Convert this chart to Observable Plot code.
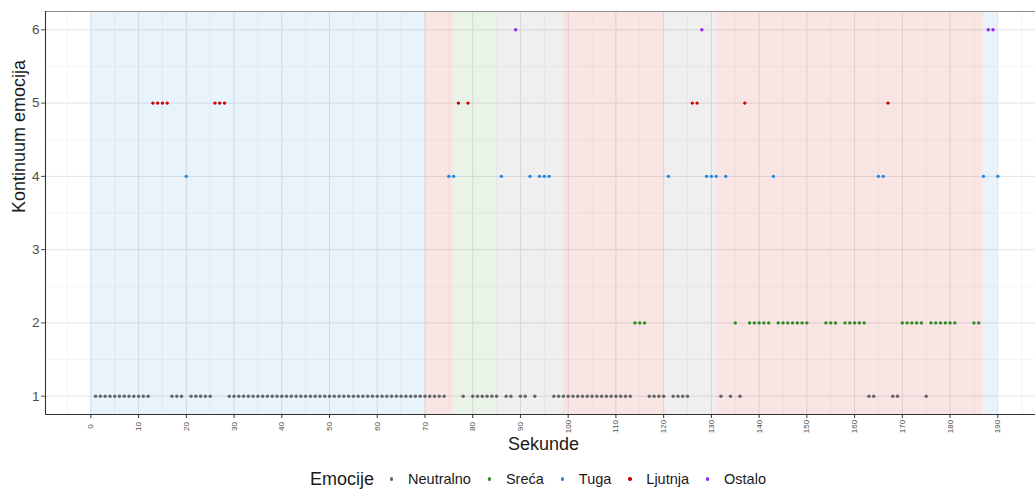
<!DOCTYPE html>
<html>
<head>
<meta charset="utf-8">
<script src="https://cdn.jsdelivr.net/npm/d3@7"></script>
<script src="https://cdn.jsdelivr.net/npm/@observablehq/plot@0.6"></script>
<style>
  body { margin: 0; background: #fff; font-family: "Liberation Sans", Arial, sans-serif; }
  #chart { width: 1035px; height: 455px; overflow: hidden; }
  #legend {
    width: 984px; height: 22px; padding-top: 13px; padding-left: 51px;
    display: flex; align-items: center; justify-content: center;
    color: #1a1a1a;
  }
  #legend .title { font-size: 18px; margin-right: 9px; }
  #legend .key { width: 17px; height: 17px; display: flex; align-items: center; justify-content: center; }
  #legend .key span { width: 3.4px; height: 3.4px; border-radius: 50%; display: block; }
  #legend .lab { font-size: 14.5px; margin-left: 8px; margin-right: 10px; }
</style>
</head>
<body>
<div id="chart"></div>
<div id="legend"></div>
<script>
// Emotion categories, their level on the continuum and their colours
const emotions = ["Neutralno", "Sreća", "Tuga", "Ljutnja", "Ostalo"];
const emotionLevels = [1, 2, 4, 5, 6];
const emotionColors = ["#666666", "#2e8b22", "#1e88e5", "#cd0000", "#a020f0"];

// Seconds at which each emotion was rated
const secNeutralno = [1,2,3,4,5,6,7,8,9,10,11,12,17,18,19,21,22,23,24,25,
  29,30,31,32,33,34,35,36,37,38,39,40,41,42,43,44,45,46,47,48,49,50,51,52,53,54,
  55,56,57,58,59,60,61,62,63,64,65,66,67,68,69,70,71,72,73,74,
  78,80,81,82,83,84,85,87,88,90,91,93,
  97,98,99,100,101,102,103,104,105,106,107,108,109,110,111,112,113,
  117,118,119,120,122,123,124,125,132,134,136,163,164,168,169,175];
const secSreca = [114,115,116,135,138,139,140,141,142,144,145,146,147,148,149,150,
  154,155,156,158,159,160,161,162,170,171,172,173,174,176,177,178,179,180,181,185,186];
const secTuga = [20,75,76,86,92,94,95,96,121,129,130,131,133,143,165,166,187,190];
const secLjutnja = [13,14,15,16,26,27,28,77,79,126,127,137,167];
const secOstalo = [89,128,188,189];

// Shaded segments: start, end and dominant emotion
const segStart = [0, 70, 76, 85, 99, 120, 131, 187];
const segEnd = [70, 76, 85, 99, 120, 131, 187, 190];
const segEmotion = ["Tuga", "Ljutnja", "Sreća", "Neutralno", "Ljutnja", "Neutralno", "Ljutnja", "Tuga"];

// Axis ticks
const xTicks = [0,10,20,30,40,50,60,70,80,90,100,110,120,130,140,150,160,170,180,190];
const yTicks = [1, 2, 3, 4, 5, 6];

const seriesSeconds = [secNeutralno, secSreca, secTuga, secLjutnja, secOstalo];
const points = [];
emotions.forEach((e, i) => {
  seriesSeconds[i].forEach(s => points.push({sec: s, level: emotionLevels[i], emotion: e}));
});
const segments = segStart.map((s, i) => ({start: s, end: segEnd[i], emotion: segEmotion[i]}));

const xDomain = [-9.5, 197.9];
const yDomain = [0.75, 6.25];
const xMinor = xTicks.map(t => t + 5).concat([xTicks[0] - 5]);
const yMinor = yTicks.slice(0, -1).map(t => t + 0.5);

const chart = Plot.plot({
  width: 1035,
  height: 455,
  marginLeft: 45,
  marginRight: 0,
  marginTop: 11,
  marginBottom: 41,
  style: {fontFamily: "'Liberation Sans', Arial, sans-serif", background: "#fff"},
  x: {domain: xDomain, axis: null},
  y: {domain: yDomain, axis: null},
  color: {domain: emotions, range: emotionColors},
  marks: [
    // panel grid
    Plot.ruleX(xMinor, {x: d => d, stroke: "#f0f0f0", strokeWidth: 0.6}),
    Plot.ruleY(yMinor, {y: d => d, stroke: "#f0f0f0", strokeWidth: 0.6}),
    Plot.ruleX(xTicks, {x: d => d, stroke: "#e4e4e4", strokeWidth: 1}),
    Plot.ruleY(yTicks, {y: d => d, stroke: "#e4e4e4", strokeWidth: 1}),
    // emotion segments
    Plot.rect(segments, {x1: "start", x2: "end", fill: "emotion", fillOpacity: 0.1}),
    // ratings
    Plot.dot(points, {x: "sec", y: "level", fill: "emotion", r: 1.7, stroke: "none"}),
    // panel border and axis lines
    Plot.frame({stroke: "#8c8c8c", strokeWidth: 1}),
    Plot.ruleX([xDomain[0]], {x: d => d, stroke: "#333", strokeWidth: 1.1}),
    Plot.ruleY([yDomain[0]], {y: d => d, stroke: "#333", strokeWidth: 1.1}),
    // ticks and labels
    Plot.axisX({ticks: xTicks, tickSize: 4, tickFormat: () => "", label: null, stroke: "#333"}),
    Plot.text(xTicks, {x: d => d, frameAnchor: "bottom", lineAnchor: "middle", rotate: -90, dy: 12,
      fontSize: 8, fill: "#4d4d4d", text: d => String(d), textAnchor: "middle"}),
    Plot.axisY({ticks: yTicks, tickSize: 4, tickPadding: 2, fontSize: 13.5, label: null,
      tickFormat: d => String(d), color: "#4d4d4d"}),
    // axis titles
    Plot.text(["Sekunde"], {frameAnchor: "bottom", lineAnchor: "middle", dx: 3, dy: 30,
      fontSize: 18, fill: "#1a1a1a"}),
    Plot.text(["Kontinuum emocija"], {frameAnchor: "left", lineAnchor: "middle", dx: -26,
      rotate: -90, fontSize: 18, fill: "#1a1a1a"})
  ]
});
document.getElementById("chart").appendChild(chart);

// Legend
const legend = document.getElementById("legend");
const title = document.createElement("span");
title.className = "title";
title.textContent = "Emocije";
legend.appendChild(title);
emotions.forEach((e, i) => {
  const key = document.createElement("span");
  key.className = "key";
  const dot = document.createElement("span");
  dot.style.background = emotionColors[i];
  key.appendChild(dot);
  legend.appendChild(key);
  const lab = document.createElement("span");
  lab.className = "lab";
  lab.textContent = e;
  legend.appendChild(lab);
});
</script>
</body>
</html>
